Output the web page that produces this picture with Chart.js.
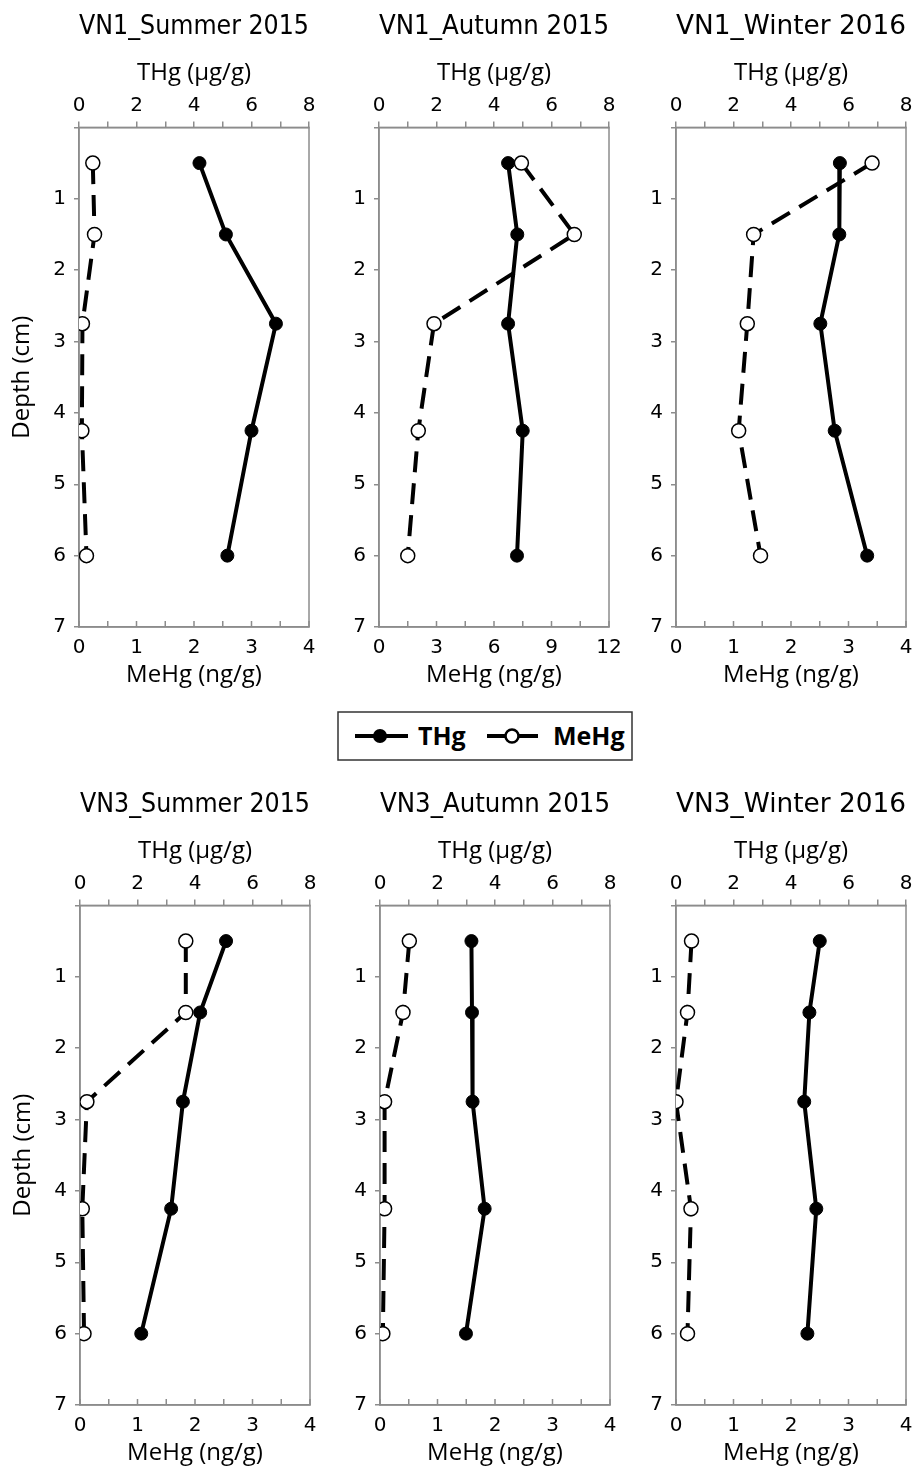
<!DOCTYPE html>
<html>
<head>
<meta charset="utf-8">
<script src="https://cdn.jsdelivr.net/npm/chart.js@4.4.1/dist/chart.umd.min.js"></script>
<style>
  html, body { margin: 0; padding: 0; background: #fff; overflow: hidden; }
  #wrap { position: relative; width: 914px; height: 1470px; overflow: hidden; }
  .panel { position: absolute; }
  #legend { position: absolute; left: 337px; top: 711px; }
</style>
</head>
<body>
<div id="wrap">
  <canvas class="panel" id="p1" width="331" height="700" style="left:0px;top:2px"></canvas>
  <canvas class="panel" id="p2" width="331" height="700" style="left:300px;top:2px"></canvas>
  <canvas class="panel" id="p3" width="331" height="700" style="left:597px;top:2px"></canvas>
  <canvas class="panel" id="p4" width="331" height="700" style="left:1px;top:780px"></canvas>
  <canvas class="panel" id="p5" width="331" height="700" style="left:301px;top:780px"></canvas>
  <canvas class="panel" id="p6" width="331" height="700" style="left:597px;top:780px"></canvas>

  <svg id="legend" width="296" height="50">
    <rect x="1" y="1" width="294" height="48" fill="#fff" stroke="#333" stroke-width="1.5"/>
    <line x1="18" y1="25" x2="71" y2="25" stroke="#000" stroke-width="4"/>
    <circle cx="43" cy="25" r="7" fill="#000"/>
    <text x="81" y="34" font-family="Open Sans" font-weight="700" font-size="25">THg</text>
    <line x1="150" y1="25" x2="201" y2="25" stroke="#000" stroke-width="4"/>
    <circle cx="175" cy="25" r="6.5" fill="#fff" stroke="#000" stroke-width="2.5"/>
    <text x="216" y="34" font-family="Open Sans" font-weight="700" font-size="25">MeHg</text>
  </svg>
</div>

<script>
// depth of each sample (cm)
const depths = [0.5, 1.5, 2.75, 4.25, 6];

const panelTitles = ['VN1_Summer 2015', 'VN1_Autumn 2015', 'VN1_Winter 2016',
                     'VN3_Summer 2015', 'VN3_Autumn 2015', 'VN3_Winter 2016'];

// THg (ug/g) per panel
const thgVN1Summer = [4.19, 5.11, 6.85, 6.0, 5.16];
const thgVN1Autumn = [4.49, 4.81, 4.49, 5.0, 4.8];
const thgVN1Winter = [5.7, 5.68, 5.02, 5.52, 6.65];
const thgVN3Summer = [5.08, 4.18, 3.58, 3.17, 2.13];
const thgVN3Autumn = [3.18, 3.2, 3.22, 3.64, 2.99];
const thgVN3Winter = [5.0, 4.64, 4.46, 4.88, 4.57];

// MeHg (ng/g) per panel
const mehgVN1Summer = [0.24, 0.27, 0.06, 0.05, 0.13];
const mehgVN1Autumn = [7.43, 10.19, 2.87, 2.05, 1.5];
const mehgVN1Winter = [3.41, 1.35, 1.24, 1.09, 1.47];
const mehgVN3Summer = [1.84, 1.84, 0.12, 0.04, 0.07];
const mehgVN3Autumn = [0.51, 0.4, 0.08, 0.08, 0.05];
const mehgVN3Winter = [0.27, 0.2, 0.0, 0.26, 0.2];

// MeHg axis: max, tick step, label step
const mehgMax = [4, 12, 4, 4, 4, 4];
const mehgTickStep = [0.5, 1.5, 0.5, 0.5, 0.5, 0.5];
const mehgLabelStep = [1, 3, 1, 1, 1, 1];

const thgMax = 8;
const depthMax = 7;

const axisGray = '#8c8c8c';
const tickFont = { family: 'DejaVu Sans', size: 20 };
const titleFont = { family: 'Open Sans', size: 24 };

// frame round the plot, plus the bottom axis ticks that point inwards
const plotBox = {
    id: 'plotBox',
    beforeDatasetsDraw(chart) {
        const { ctx, chartArea: a } = chart;
        ctx.save();
        ctx.strokeStyle = axisGray;
        ctx.lineWidth = 1.5;
        ctx.strokeRect(a.left, a.top, a.right - a.left, a.bottom - a.top);
        const bottom = chart.scales.mehg;
        ctx.beginPath();
        bottom.ticks.forEach(t => {
            const x = bottom.getPixelForValue(t.value);
            ctx.moveTo(x, a.bottom);
            ctx.lineTo(x, a.bottom - 6);
        });
        ctx.stroke();
        ctx.restore();
    }
};

function toPoints(values) {
    return depths.map((d, i) => ({ x: values[i], y: d }));
}

function makePanel(canvasId, idx, thg, mehg, showDepthTitle) {
    const ctx = document.getElementById(canvasId).getContext('2d');
    return new Chart(ctx, {
        type: 'scatter',
        data: {
            datasets: [{
                label: 'THg',
                data: toPoints(thg),
                xAxisID: 'thg',
                yAxisID: 'y',
                showLine: true,
                borderColor: '#000',
                borderWidth: 4,
                pointRadius: 6.5,
                pointBackgroundColor: '#000',
                pointBorderColor: '#000',
                pointBorderWidth: 1
            }, {
                label: 'MeHg',
                data: toPoints(mehg),
                xAxisID: 'mehg',
                yAxisID: 'y',
                showLine: true,
                borderColor: '#000',
                borderWidth: 4,
                borderDash: [21, 11],
                pointRadius: 7,
                pointBackgroundColor: '#fff',
                pointBorderColor: '#000',
                pointBorderWidth: 1.5
            }]
        },
        options: {
            responsive: false,
            animation: false,
            layout: { padding: { left: 0, right: 22, top: 0, bottom: 5 } },
            plugins: {
                legend: { display: false },
                tooltip: { enabled: false },
                title: {
                    display: true,
                    text: panelTitles[idx],
                    fullSize: false,
                    color: '#000',
                    font: { family: 'DejaVu Sans', size: 27, weight: 'normal' },
                    padding: { top: 9, bottom: 0 }
                }
            },
            scales: {
                thg: {
                    type: 'linear',
                    position: 'top',
                    min: 0,
                    max: thgMax,
                    ticks: {
                        stepSize: 1,
                        autoSkip: false,
                        maxRotation: 0,
                        padding: 4,
                        color: '#000',
                        font: tickFont,
                        callback: v => (v % 2 === 0 ? v : '')
                    },
                    grid: { drawOnChartArea: false, tickLength: 6, color: axisGray, lineWidth: 1.5 },
                    border: { color: axisGray, width: 1.5 },
                    title: { display: true, text: 'THg (μg/g)', color: '#000', font: titleFont, padding: { top: 15, bottom: 0 } },
                    afterFit: s => { s.height = 84; }
                },
                mehg: {
                    type: 'linear',
                    position: 'bottom',
                    min: 0,
                    max: mehgMax[idx],
                    ticks: {
                        stepSize: mehgTickStep[idx],
                        autoSkip: false,
                        maxRotation: 0,
                        padding: 9,
                        color: '#000',
                        font: tickFont,
                        callback: v => (Math.abs(v / mehgLabelStep[idx] - Math.round(v / mehgLabelStep[idx])) < 1e-6 ? v : '')
                    },
                    grid: { drawOnChartArea: false, drawTicks: false, color: axisGray, lineWidth: 1.5 },
                    border: { color: axisGray, width: 1.5 },
                    title: { display: true, text: 'MeHg (ng/g)', color: '#000', font: titleFont, padding: { top: 0, bottom: 7 } },
                    afterFit: s => { s.height = 70; }
                },
                y: {
                    type: 'linear',
                    reverse: true,
                    min: 0,
                    max: depthMax,
                    ticks: {
                        stepSize: 1,
                        padding: 8,
                        color: '#000',
                        font: tickFont,
                        callback: v => (v === 0 ? '' : v)
                    },
                    grid: { drawOnChartArea: false, tickLength: 5, color: axisGray, lineWidth: 1.5 },
                    border: { color: axisGray, width: 1.5 },
                    title: { display: showDepthTitle, text: 'Depth (cm)', color: '#000', font: titleFont, padding: { top: 8, bottom: 0 } },
                    afterFit: s => { s.width = 79; }
                }
            }
        },
        plugins: [plotBox]
    });
}

makePanel('p1', 0, thgVN1Summer, mehgVN1Summer, true);
makePanel('p2', 1, thgVN1Autumn, mehgVN1Autumn, false);
makePanel('p3', 2, thgVN1Winter, mehgVN1Winter, false);
makePanel('p4', 3, thgVN3Summer, mehgVN3Summer, true);
makePanel('p5', 4, thgVN3Autumn, mehgVN3Autumn, false);
makePanel('p6', 5, thgVN3Winter, mehgVN3Winter, false);
</script>
</body>
</html>
